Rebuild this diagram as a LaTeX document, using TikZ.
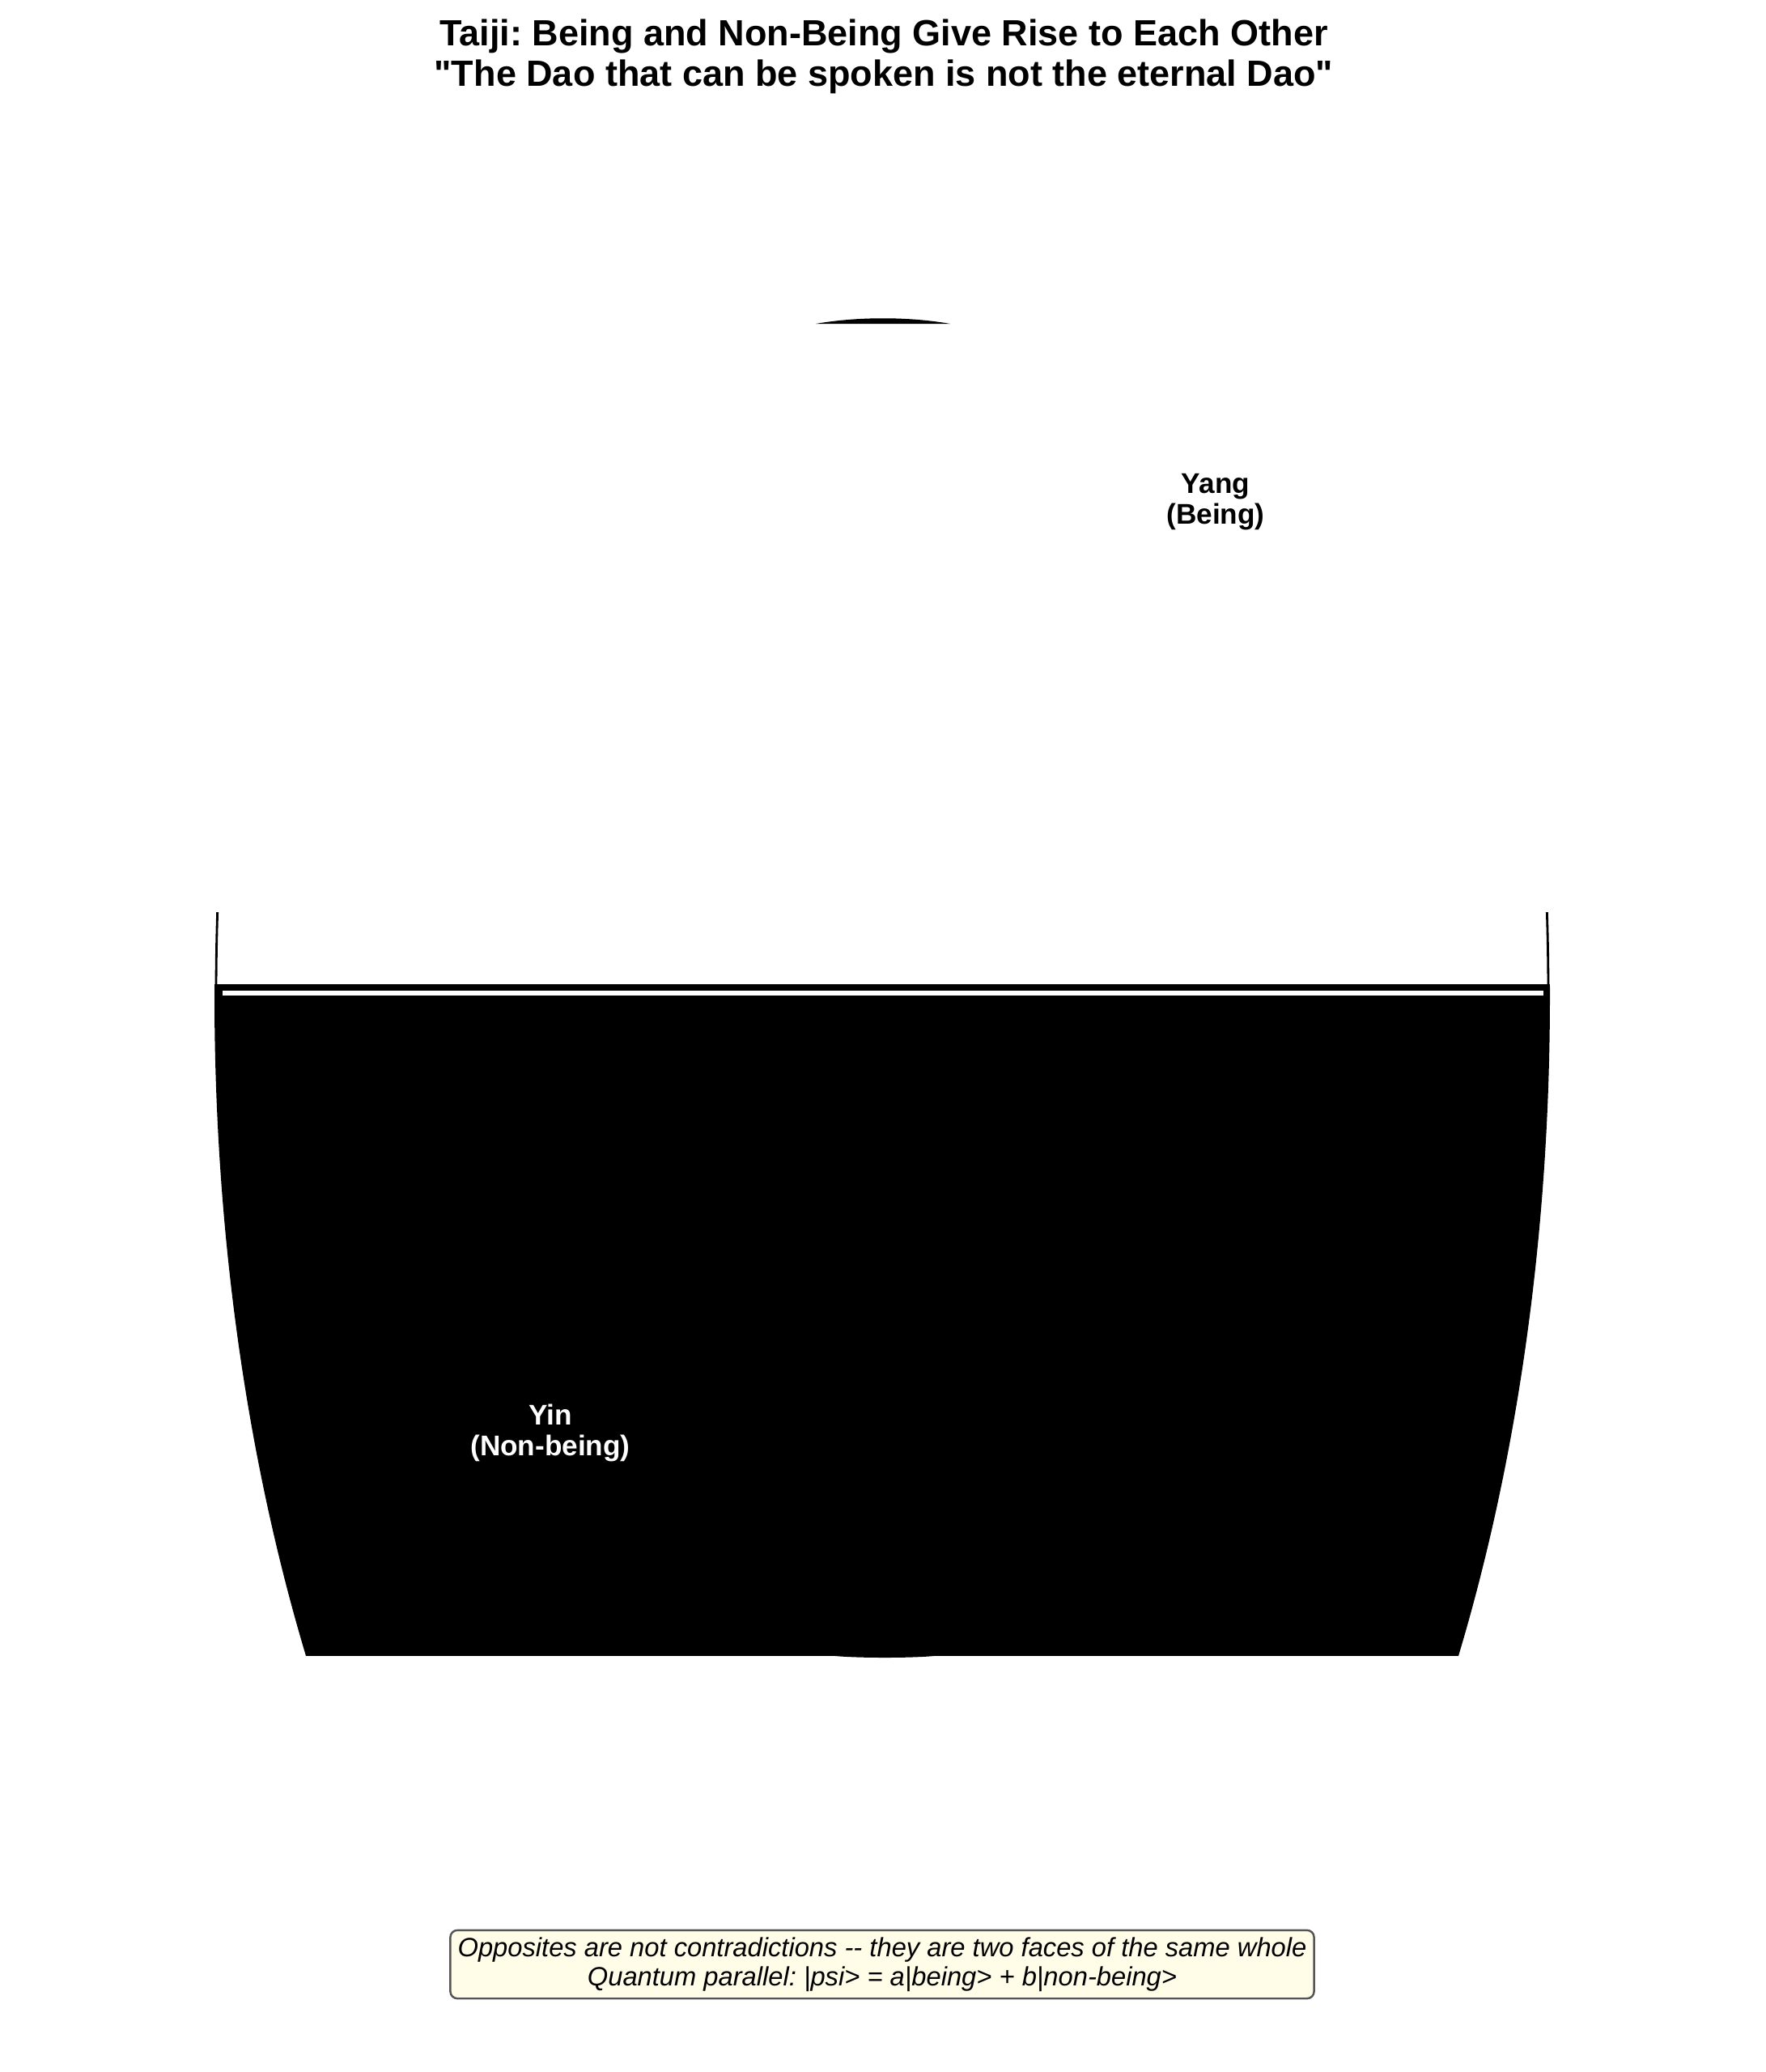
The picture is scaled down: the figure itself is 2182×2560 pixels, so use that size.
\documentclass[tikz,border=0pt]{standalone}
\usepackage{fontspec}
\setmainfont{Liberation Sans}
\frenchspacing
\definecolor{notefill}{RGB}{255,253,232}
\definecolor{noteedge}{RGB}{85,85,85}
\begin{document}
\begin{tikzpicture}[x=0.01cm,y=-0.01cm,
    title/.style={font=\bfseries\fontsize{12.8}{14.2}\selectfont,align=center,inner sep=0pt},
    taijilabel/.style={font=\bfseries\fontsize{10}{10.8}\selectfont,align=center,inner sep=0pt},
    note/.style={draw=noteedge,line width=0.7pt,fill=notefill,rounded corners=2.5pt,
      font=\itshape\fontsize{9.3}{10.2}\selectfont,align=center,inner xsep=2.6pt,inner ysep=2.5pt}]
  \useasboundingbox (0,0) rectangle (2182,2560);
  % yin half
  \begin{scope}
    \clip (200,1216) rectangle (1980,2045);
    \fill (1090,1230) ellipse [x radius=825,y radius=1614];
  \end{scope}
  \begin{scope}
    \clip (200,1127) rectangle (1980,1217);
    \draw[line width=0.8pt] (1090,1230) ellipse [x radius=823,y radius=1612];
  \end{scope}
  \fill (1093,2044) ellipse [x radius=70,y radius=4];
  \fill (1008,400) .. controls (1060,391) and (1122,391) .. (1174,400) -- cycle;
  \draw[white,line width=1.7pt] (275,1227) -- (1907,1227);
  % labels
  \node[title] (head) at (1092,70) {Taiji: Being and Non-Being Give Rise to Each Other\\\textquotedbl The Dao that can be spoken is not the eternal Dao\textquotedbl};
  \node[taijilabel] (yang) at (1502,620) {Yang\\(Being)};
  \node[taijilabel,white] (yin) at (680,1770) {Yin\\(Non-being)};
  \node[note] (moral) at (1090,2427) {Opposites are not contradictions -{}- they are two faces of the same whole\\Quantum parallel: |psi> = a|being> + b|non-being>};
\end{tikzpicture}
\end{document}
